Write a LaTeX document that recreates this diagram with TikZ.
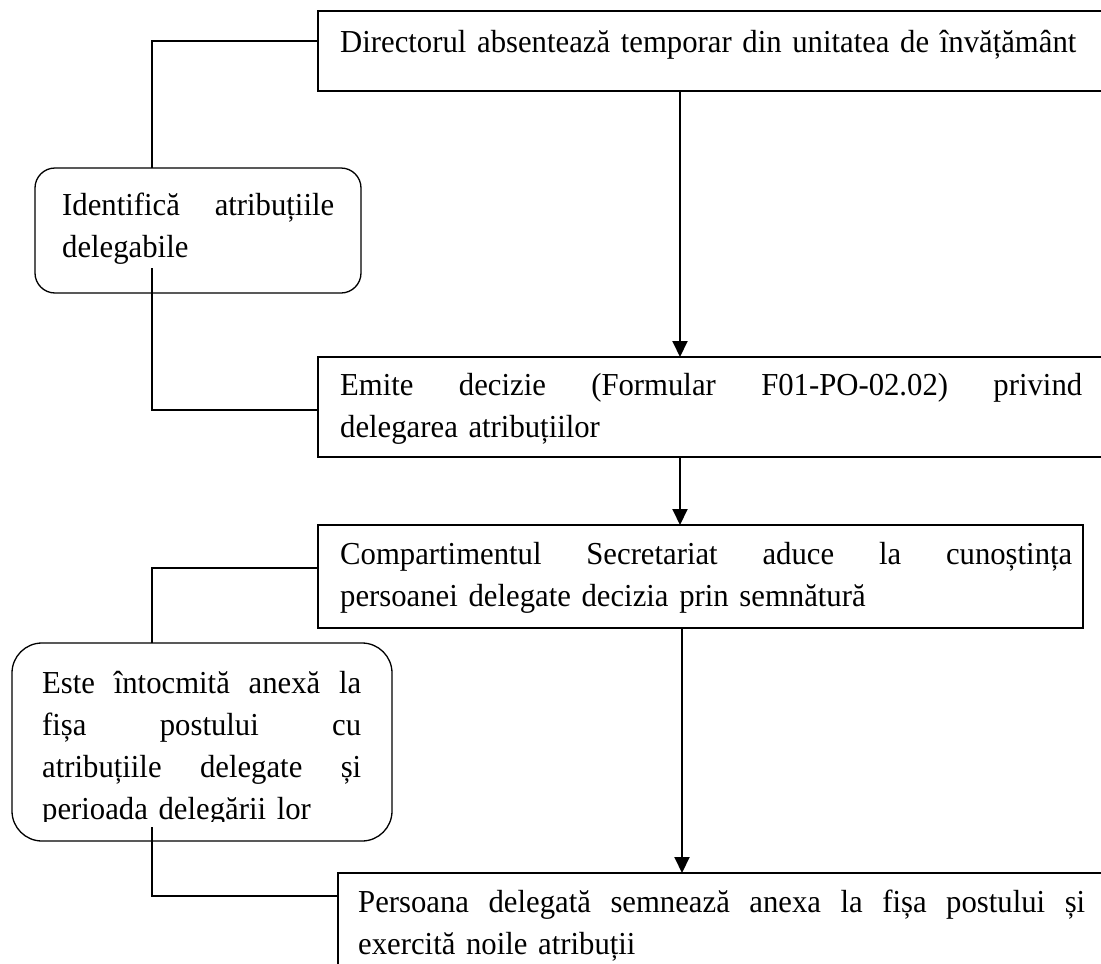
\documentclass[tikz,border=0pt]{standalone}
\usepackage{fontspec}
\setmainfont[FakeStretch=0.96]{Liberation Serif}
\usetikzlibrary{arrows.meta}
\newcommand{\stretchline}[2]{\leavevmode\hbox to #1{#2}}
\newcommand{\gap}{\hfill}
\begin{document}
\begin{tikzpicture}[x=1pt,y=-1pt,
  box/.style={draw, line width=1.3pt, inner sep=0pt, outer sep=0pt, anchor=north west},
  rbox/.style={box, rounded corners=#1},
  txt/.style={inner sep=0pt, anchor=base west, align=left, font=\fontsize{32}{42}\selectfont},
  conn/.style={line width=1.3pt},
  arr/.style={line width=2pt, -{Triangle[width=15pt,length=16pt]}}]
\useasboundingbox (0,0) rectangle (1101,964);
\fill[white] (0,0) rectangle (1101,964);

% boxes
\node[box, minimum width=802pt, minimum height=80pt] (b1) at (318,11) {};
\node[box, minimum width=802pt, minimum height=100pt] (b2) at (318,357) {};
\node[box, minimum width=765pt, minimum height=103pt] (b3) at (318,525) {};
\node[box, minimum width=782pt, minimum height=120pt] (b4) at (338,873) {};
\node[rbox=20pt, minimum width=326pt, minimum height=125pt] (r1) at (35,168) {};
\node[rbox=30pt, minimum width=380pt, minimum height=198pt] (r2) at (12,643) {};

% texts
\node[txt, text width=755pt] (t1) at (340,52) {Directorul absentează temporar din unitatea de învățământ};
\node[txt, text width=750pt] (t2) at (340,395) {\stretchline{742pt}{Emite\gap decizie\gap (Formular\gap F01-PO-02.02)\gap privind}\\delegarea atribuțiilor};
\node[txt, text width=750pt] (t3) at (340,564) {\stretchline{732pt}{Compartimentul\gap Secretariat\gap aduce\gap la\gap cunoștința}\\persoanei delegate decizia prin semnătură};
\node[txt, text width=740pt] (t4) at (358,912) {\stretchline{727pt}{Persoana\gap delegată\gap semnează\gap anexa\gap la\gap fișa\gap postului\gap și}\\exercită noile atribuții};
\node[txt, text width=280pt] (t5) at (62,215) {\stretchline{272pt}{Identifică\gap atribuțiile}\\delegabile};
\begin{scope}
\clip (0,0) rectangle (1101,821);
\node[txt, text width=330pt] (t6) at (42,693) {\stretchline{319pt}{Este\gap întocmită\gap anexă\gap la}\\\stretchline{319pt}{fișa\gap postului\gap cu}\\\stretchline{319pt}{atribuțiile\gap delegate\gap și}\\perioada delegării lor};
\end{scope}

% connector points
\coordinate (k1) at (152,41);
\coordinate (k2) at (152,268);
\coordinate (k3) at (152,410);
\coordinate (k4) at (152,568);
\coordinate (k5) at (152,827);
\coordinate (k6) at (152,896);
\coordinate (ax) at (680,0);
\coordinate (ay) at (682,0);

% connectors
\draw[conn] (b1.west |- k1) -- (k1) -- (k1 |- r1.north);
\draw[conn] (k2) -- (k3) -- (k3 -| b2.west);
\draw[conn] (b3.west |- k4) -- (k4) -- (k4 |- r2.north);
\draw[conn] (k5) -- (k6) -- (k6 -| b4.west);
\draw[arr] (b1.south -| ax) -- (b2.north -| ax);
\draw[arr] (b2.south -| ax) -- (b3.north -| ax);
\draw[arr] (b3.south -| ay) -- (b4.north -| ay);
\end{tikzpicture}
\end{document}
